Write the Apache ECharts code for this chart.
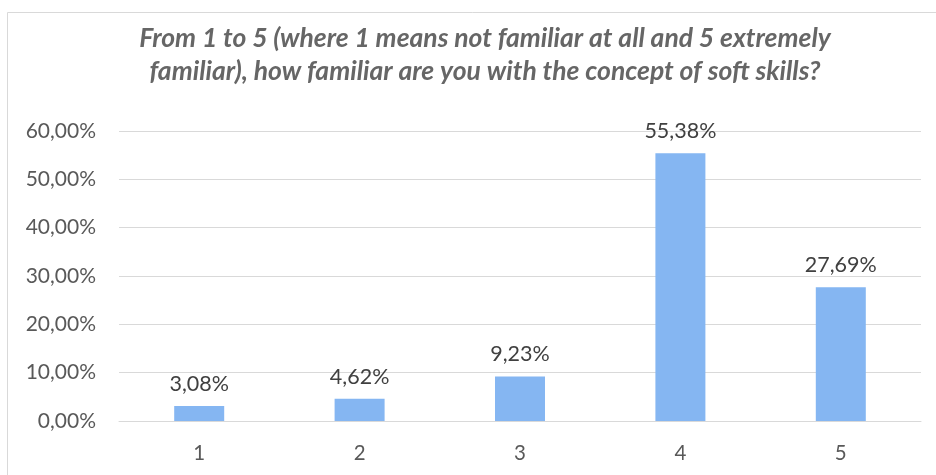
<!DOCTYPE html>
<html>
<head>
<meta charset="utf-8">
<style>
  html, body { margin: 0; padding: 0; background: #ffffff; }
  #chart { width: 936px; height: 475px; }
</style>
<script src="https://cdn.jsdelivr.net/npm/echarts@6/dist/echarts.min.js"></script>
</head>
<body>
<div id="chart"></div>
<script>
// Survey answers: familiarity with soft skills on a 1–5 scale
const categories = ['1', '2', '3', '4', '5'];
const shares = [3.08, 4.62, 9.23, 55.38, 27.69];
const yTicks = [0, 10, 20, 30, 40, 50, 60];

const titleText = 'From 1 to 5 (where 1 means not familiar at all and 5 extremely\nfamiliar), how familiar are you with the concept of soft skills?';

const pct = v => v.toFixed(2).replace('.', ',') + '%';
const fontFamily = 'Lato, "Open Sans", sans-serif';

const chart = echarts.init(document.getElementById('chart'));
chart.setOption({
  backgroundColor: '#ffffff',
  animation: false,
  graphic: [{
    type: 'rect',
    shape: { x: 7.5, y: 12.5, width: 1000, height: 1000 },
    style: { fill: 'none', stroke: '#d9d9d9', lineWidth: 1 },
    silent: true,
    z: -1
  }],
  title: {
    text: titleText,
    left: 480,
    top: 17,
    textAlign: 'center',
    textStyle: {
      fontFamily: fontFamily,
      fontSize: 26.5,
      fontWeight: 'bold',
      fontStyle: 'italic',
      color: '#666666',
      lineHeight: 33
    }
  },
  grid: { left: 119, right: 15, top: 131, bottom: 54, containLabel: false },
  xAxis: {
    type: 'category',
    data: categories,
    axisTick: { show: false },
    axisLine: { show: true, lineStyle: { color: '#d9d9d9', width: 1 } },
    axisLabel: { color: '#595959', fontFamily: fontFamily, fontSize: 20.5, margin: 22 }
  },
  yAxis: {
    type: 'value',
    min: yTicks[0],
    max: yTicks[yTicks.length - 1],
    interval: 10,
    axisLine: { show: false },
    axisTick: { show: false },
    splitLine: { lineStyle: { color: '#d9d9d9', width: 1 } },
    axisLabel: {
      color: '#595959', fontFamily: fontFamily, fontSize: 21, margin: 23,
      formatter: v => pct(v)
    }
  },
  series: [{
    type: 'bar',
    data: shares,
    barWidth: 50,
    itemStyle: { color: '#85b6f2' },
    label: {
      show: true,
      position: 'top',
      distance: 11,
      color: '#404040',
      fontFamily: fontFamily,
      fontSize: 21.5,
      formatter: p => pct(p.value)
    }
  }]
});
</script>
</body>
</html>
